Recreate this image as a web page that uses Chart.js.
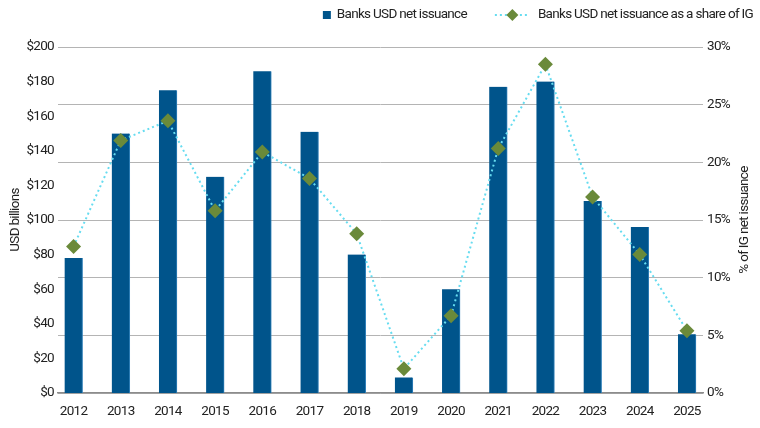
<!DOCTYPE html>
<html>
<head>
<meta charset="utf-8">
<script src="https://cdn.jsdelivr.net/npm/chart.js@4/dist/chart.umd.min.js"></script>
<style>
html,body{margin:0;padding:0;background:#fff;}
#wrap{width:760px;height:428px;position:relative;}
</style>
</head>
<body>
<div id="wrap"><canvas id="c" width="760" height="428"></canvas></div>
<script>
// ---- data ----
const years = ['2012','2013','2014','2015','2016','2017','2018','2019','2020','2021','2022','2023','2024','2025'];
const issuanceUSD = [78, 150, 175, 125, 186, 151, 80, 9, 60, 177, 180, 111, 96, 34];
const shareOfIG = [12.7, 21.9, 23.6, 15.8, 20.9, 18.6, 13.8, 2.1, 6.7, 21.2, 28.5, 17.0, 12.0, 5.4];
const leftTicks = [0, 20, 40, 60, 80, 100, 120, 140, 160, 180, 200];
const rightTicks = [0, 5, 10, 15, 20, 25, 30];
const seriesNames = ['Banks USD net issuance', 'Banks USD net issuance as a share of IG'];
const axisTitles = ['USD billions', '% of IG net issuance'];

const FONT = 'Roboto, "Liberation Sans", sans-serif';
const FSIZE = 13.5;
const LS = '-0.7px';
const TEXT = '#222222';
const BAR = '#00548b';
const LINE = '#66dcf0';
const MARK = '#6a8a3a';
const GRID = '#b4b4b4';

const condensePlugin = {
  id: 'condense',
  beforeInit(chart) { chart.ctx.letterSpacing = LS; },
  beforeUpdate(chart) { chart.ctx.letterSpacing = LS; },
  beforeDraw(chart) { chart.ctx.letterSpacing = LS; }
};

const legendPlugin = {
  id: 'customLegend',
  afterDraw(chart) {
    const ctx = chart.ctx;
    ctx.save();
    ctx.letterSpacing = LS;
    ctx.font = FSIZE + 'px ' + FONT;
    ctx.textBaseline = 'middle';
    const y = 15;
    const right = 753;
    const w2 = ctx.measureText(seriesNames[1]).width;
    const t2 = right - w2;
    const m2 = t2 - 8 - 35;
    const w1 = ctx.measureText(seriesNames[0]).width;
    const g1 = m2 - 28;
    const t1 = g1 - w1;
    const b1 = t1 - 14;
    // item 1
    ctx.fillStyle = BAR;
    ctx.fillRect(b1, 11, 8, 8);
    ctx.fillStyle = TEXT;
    ctx.fillText(seriesNames[0], t1, y);
    // item 2
    ctx.strokeStyle = LINE;
    ctx.lineWidth = 2;
    ctx.setLineDash([2, 3]);
    ctx.beginPath(); ctx.moveTo(m2, y); ctx.lineTo(m2 + 35, y); ctx.stroke();
    ctx.setLineDash([]);
    ctx.fillStyle = MARK;
    const cx = m2 + 17.5;
    ctx.beginPath();
    ctx.moveTo(cx, y - 6); ctx.lineTo(cx + 6, y); ctx.lineTo(cx, y + 6); ctx.lineTo(cx - 6, y);
    ctx.closePath(); ctx.fill();
    ctx.fillStyle = TEXT;
    ctx.fillText(seriesNames[1], t2, y);
    // axis titles (both read bottom to top)
    const ca = chart.chartArea;
    const cy = (ca.top + ca.bottom) / 2;
    ctx.textAlign = 'center';
    ctx.save();
    ctx.translate(16, cy);
    ctx.rotate(-Math.PI / 2);
    ctx.fillText(axisTitles[0], 0, 0);
    ctx.restore();
    ctx.save();
    ctx.translate(745, cy);
    ctx.rotate(-Math.PI / 2);
    ctx.fillText(axisTitles[1], 0, 0);
    ctx.restore();
    ctx.restore();
  }
};

new Chart(document.getElementById('c'), {
  data: {
    datasets: [
      {
        type: 'line',
        label: seriesNames[1],
        data: shareOfIG.map((v, i) => ({x: i, y: v})),
        yAxisID: 'y1',
        order: 0,
        borderColor: LINE,
        borderWidth: 2,
        borderDash: [2, 3],
        tension: 0,
        pointStyle: 'rectRot',
        pointRadius: 7.5,
        pointHoverRadius: 7.5,
        pointBackgroundColor: MARK,
        pointBorderColor: MARK,
        pointBorderWidth: 0
      },
      {
        type: 'bar',
        label: seriesNames[0],
        data: issuanceUSD.map((v, i) => ({x: i, y: v})),
        yAxisID: 'y',
        order: 1,
        backgroundColor: BAR,
        borderColor: '#2f7fb8',
        borderWidth: {left: 0, right: 1, top: 0, bottom: 0},
        barThickness: 18
      }
    ]
  },
  options: {
    responsive: false,
    animation: false,
    layout: {padding: {top: 47, left: 0, right: 0, bottom: 0}},
    plugins: {legend: {display: false}, tooltip: {enabled: false}},
    scales: {
      x: {
        type: 'linear',
        offset: false,
        min: -0.33,
        max: 13.34,
        afterBuildTicks(s) { s.ticks = years.map((_, i) => ({value: i})); },
        afterFit(s) { s.height = 35; },
        grid: {display: false, drawTicks: false, offset: false},
        border: {display: true, color: '#8c8c8c', width: 1.5},
        ticks: {
          autoSkip: false,
          maxRotation: 0,
          padding: 11,
          color: TEXT,
          font: {family: FONT, size: FSIZE},
          callback: (v) => years[v]
        }
      },
      y: {
        position: 'left',
        min: 0,
        max: 200,
        afterBuildTicks(s) { s.ticks = leftTicks.map(v => ({value: v})); },
        afterFit(s) { s.width = 58; },
        grid: {display: false, drawTicks: false},
        border: {display: false},
        ticks: {
          padding: 4,
          color: TEXT,
          font: {family: FONT, size: FSIZE},
          callback: (v) => '$' + v
        }
      },
      y1: {
        position: 'right',
        min: 0,
        max: 30,
        afterBuildTicks(s) { s.ticks = rightTicks.map(v => ({value: v})); },
        afterFit(s) { s.width = 57; },
        grid: {display: true, drawTicks: false, color: GRID, lineWidth: 1},
        border: {display: false},
        ticks: {
          padding: 4,
          color: TEXT,
          font: {family: FONT, size: FSIZE},
          callback: (v) => v + '%'
        }
      }
    }
  },
  plugins: [condensePlugin, legendPlugin]
});
</script>
</body>
</html>
